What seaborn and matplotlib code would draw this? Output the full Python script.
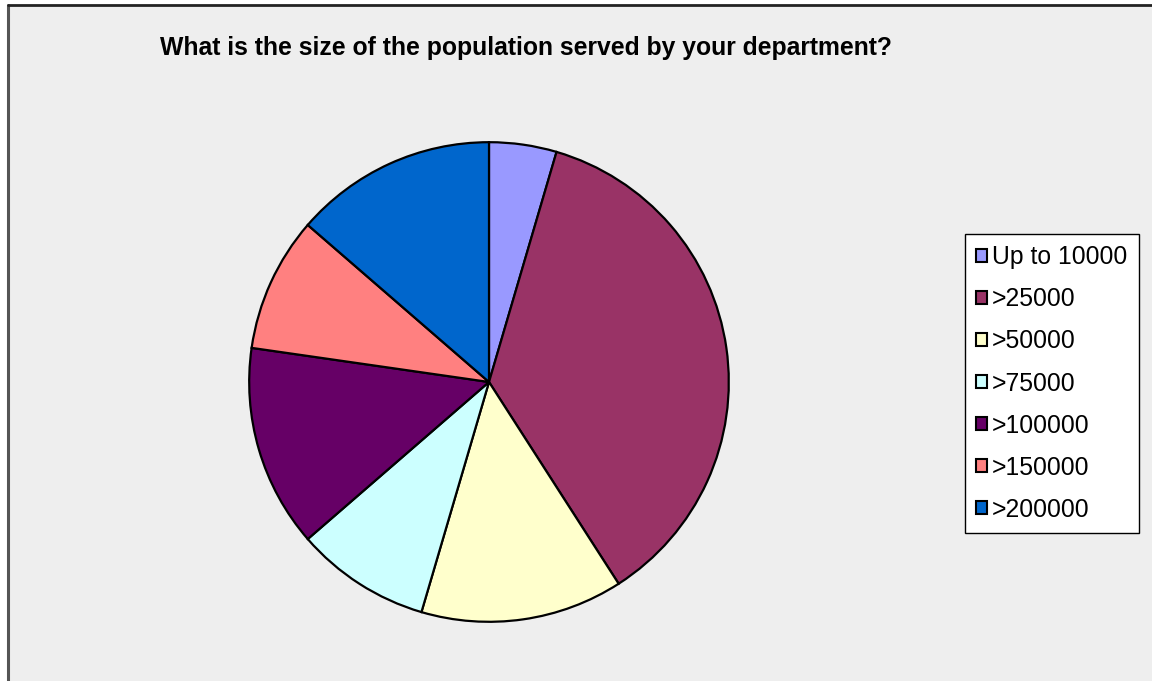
import matplotlib
matplotlib.use("Agg")
import matplotlib.pyplot as plt
from matplotlib.patches import Rectangle, Patch
import seaborn as sns

categories = ["Up to 10000", ">25000", ">50000", ">75000", ">100000", ">150000", ">200000"]
counts = [1, 8, 3, 2, 3, 2, 3]
colors = ["#9999FF", "#993366", "#FFFFCC", "#CCFFFF", "#660066", "#FF8080", "#0066CC"]
title = "What is the size of the population served by your department?"

sns.set_style("white")
plt.rcParams["font.family"] = ["Liberation Sans", "DejaVu Sans"]
plt.rcParams["text.color"] = "black"
palette = sns.color_palette(colors)

W, H = 1152, 681
fig = plt.figure(figsize=(W / 100, H / 100), dpi=100)
fig.patch.set_facecolor("white")

# chart area with a frame on the left and top edges
fig.patches.append(Rectangle((8 / W, -0.1), 1.2, (H - 5) / H + 0.1, transform=fig.transFigure,
                             facecolor="#EEEEEE", edgecolor="none", zorder=-10))
fig.lines.append(plt.Line2D([8 / W, 8 / W], [0, (H - 5) / H], transform=fig.transFigure,
                            color="#555555", lw=2.2, zorder=-5))
fig.lines.append(plt.Line2D([8 / W, 1], [(H - 5) / H, (H - 5) / H], transform=fig.transFigure,
                            color="#222222", lw=2.0, zorder=-5))

cx, cy, r = 489, 382, 241
ax = fig.add_axes([(cx - r) / W, (H - cy - r) / H, 2 * r / W, 2 * r / H])
ax.set_zorder(1)
ax.patch.set_visible(False)
ax.pie(counts, colors=palette, startangle=90, counterclock=False,
       wedgeprops=dict(edgecolor="black", linewidth=1.6))
ax.set_xlim(-1.005, 1.005)
ax.set_ylim(-1.005, 1.005)
ax.set_aspect("equal")
ax.axis("off")

fig.text(526 / W, 1 - 48 / H, title, ha="center", va="center",
         fontsize=17.8, fontweight="bold", color="black", zorder=2)

handles = [Patch(facecolor=c, edgecolor="black", linewidth=1.5) for c in palette]
leg = fig.legend(handles, categories, loc="upper left",
                 bbox_to_anchor=(965 / W, 1 - 234 / H), bbox_transform=fig.transFigure,
                 fontsize=17.8, frameon=True, fancybox=False, framealpha=1,
                 edgecolor="black", facecolor="white", handlelength=0.44, handleheight=0.44,
                 handletextpad=0.2, labelspacing=0.73, borderpad=0.46, borderaxespad=0)
leg.get_frame().set_linewidth(1.0)
leg.set_zorder(3)
for t in leg.get_texts():
    t.set_color("black")

fig.savefig("out.png", dpi=100)
